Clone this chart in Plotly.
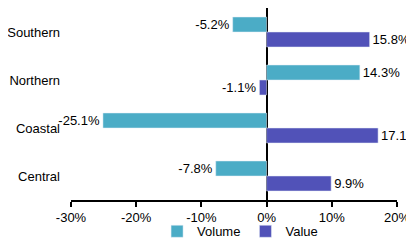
import plotly.graph_objects as go

regions = ["Southern", "Northern", "Coastal", "Central"]
volume = [-5.2, 14.3, -25.1, -7.8]
value = [15.8, -1.1, 17.1, 9.9]
tick_vals = [-30, -20, -10, 0, 10, 20]
tick_text = ["-30%", "-20%", "-10%", "0%", "10%", "20%"]

font = dict(family="Liberation Sans, Arial, sans-serif", size=13, color="#000000")

fig = go.Figure()
fig.add_trace(go.Bar(
    y=regions, x=volume, orientation="h", name="Volume",
    marker=dict(color="#4BACC6"),
    text=[f"{v:.1f}%" for v in volume], textposition="outside",
    textfont=font, cliponaxis=False, constraintext="none",
))
fig.add_trace(go.Bar(
    y=regions, x=value, orientation="h", name="Value",
    marker=dict(color="#5152B8"),
    text=[f"{v:.1f}%" for v in value], textposition="outside",
    textfont=font, cliponaxis=False, constraintext="none",
))

fig.update_layout(
    width=406, height=232,
    margin=dict(l=63, r=17, t=0, b=40, autoexpand=False),
    plot_bgcolor="white", paper_bgcolor="white",
    font=font,
    barmode="group", bargap=0.375, bargroupgap=0,
    showlegend=True,
    legend=dict(orientation="h", x=0.264, xanchor="left", y=-0.085, yanchor="top",
                font=font, itemwidth=30, traceorder="normal",
                bgcolor="rgba(0,0,0,0)"),
    xaxis=dict(range=[-30, 20], tickvals=tick_vals, ticktext=tick_text,
               showgrid=False, zeroline=True, zerolinecolor="black", zerolinewidth=2,
               showline=True, linecolor="black", linewidth=1.5,
               ticks="outside", ticklen=5, tickcolor="black", tickwidth=1.5,
               tickfont=font, automargin=False),
    yaxis=dict(autorange="reversed", showgrid=False, showline=False,
               ticks="", ticklabelstandoff=10, tickfont=font, automargin=False),
)

fig.write_html("out.html")
